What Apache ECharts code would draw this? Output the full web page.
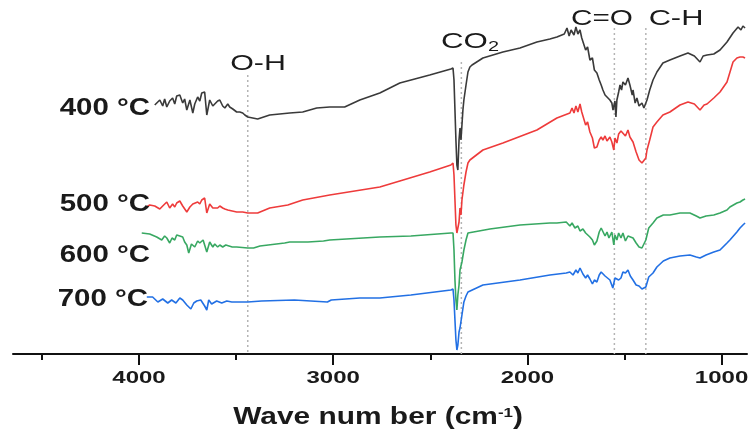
<!DOCTYPE html>
<html><head><meta charset="utf-8">
<script src="https://cdn.jsdelivr.net/npm/echarts@6/dist/echarts.min.js"></script>
<style>html,body{margin:0;padding:0;background:#fff}#c{width:751px;height:437px}</style>
</head><body><div id="c"></div>
<script>
// Wavenumber (cm-1) and relative transmittance (a.u.), stacked spectra
const s400 = [[3919,124.5],[3909,125.5],[3893,127],[3878,124],[3868,127.5],[3857,123.5],[3842,126.5],[3827,128],[3816,125],[3806,129],[3790,129.5],[3775,125.5],[3765,127.5],[3754,122],[3738,127],[3723,120.5],[3713,125],[3698,128.5],[3687,126.5],[3677,130.5],[3662,131],[3651,119.5],[3636,127],[3620,124],[3610,123.5],[3595,126.5],[3584,127],[3569,124],[3558,123],[3543,125],[3533,123.5],[3517,122.5],[3507,122],[3497,121],[3481,121],[3466,120.5],[3455,119.5],[3440,118.5],[3389,117.5],[3327,119.5],[3224,120.5],[3157,121],[3085,123],[3018,123.5],[2941,123.5],[2863,127],[2760,130.5],[2657,135.5],[2503,139.5],[2394,142.5],[2383,143],[2378,137],[2373,122],[2368,107],[2363,94.5],[2358,92],[2352,107],[2347,113],[2342,107],[2337,114.5],[2332,122],[2327,127],[2316,134.5],[2306,141],[2296,143.5],[2285,144.5],[2229,148],[2126,151],[2038,153],[1951,156],[1884,157.5],[1848,158.5],[1810,160],[1796,163],[1785,159],[1775,162],[1760,159.5],[1750,163.5],[1740,160],[1729,162],[1720,158],[1714,157],[1700,152],[1690,153.5],[1678,147],[1665,148],[1655,142],[1642,140.5],[1630,137],[1620,134.5],[1611,132],[1600,129.5],[1590,128.5],[1575,127],[1565,125.5],[1559,122],[1549,126.5],[1544,118.5],[1539,127],[1530,131],[1523,134.5],[1515,132],[1508,136],[1495,134.5],[1482,138],[1472,134.5],[1460,129.5],[1456,132],[1445,125.5],[1436,128],[1425,124],[1420,123.5],[1410,125.5],[1400,123],[1394,124.5],[1384,127],[1370,132],[1353,137],[1333,141],[1302,145.5],[1266,147],[1214,149],[1173,150.5],[1140,149],[1111,146],[1095,149],[1075,149.5],[1040,150],[1008,152],[972,156],[941,160.5],[915,163.5],[900,162],[890,164],[879,163]];
const s500 = [[3960,73.5],[3945,74.5],[3919,74],[3909,75],[3893,72.5],[3878,74],[3857,76],[3842,73],[3827,75],[3816,73.5],[3806,75.5],[3790,76.5],[3775,74],[3765,75],[3754,71],[3738,73.5],[3723,75],[3713,74],[3698,76],[3687,75],[3677,77],[3662,78],[3651,70.5],[3636,75],[3620,73],[3610,74],[3595,73],[3584,74],[3569,73],[3558,72.5],[3543,72],[3520,71.5],[3497,71],[3466,71],[3440,70.5],[3389,70.5],[3327,73],[3234,74.5],[3157,77],[3018,79.5],[2760,83.5],[2657,86.5],[2503,91],[2394,94.5],[2383,95.5],[2378,89.5],[2373,77],[2368,64.5],[2363,60.5],[2358,59.5],[2352,66],[2347,73],[2342,69.5],[2337,77],[2327,84.5],[2316,91],[2306,95.5],[2296,97],[2229,102],[2126,105.5],[1951,112],[1848,118],[1781,120.5],[1770,123],[1760,120.5],[1750,124],[1740,121],[1729,125],[1720,121],[1714,122],[1700,114.5],[1690,116],[1678,111],[1665,108],[1655,103],[1642,103.5],[1630,107],[1620,108.5],[1611,107],[1600,109],[1590,106.5],[1575,108.5],[1565,106],[1555,102],[1549,108],[1539,105.5],[1530,110],[1518,111.5],[1508,112],[1495,109],[1482,112],[1472,108.5],[1456,106],[1440,101],[1425,97],[1410,95.5],[1400,95.5],[1390,98],[1384,102],[1370,107],[1353,113.5],[1333,116],[1302,119.5],[1266,121],[1214,124.5],[1173,126],[1140,125],[1111,122],[1090,124.5],[1075,125],[1040,128],[1008,131],[972,136],[941,146],[921,148],[905,148.5],[890,148.5],[879,148]];
const s600 = [[3986,60.5],[3945,60],[3909,58.5],[3883,57],[3868,59],[3857,58],[3842,55.5],[3830,58],[3816,57],[3806,59.5],[3790,59],[3775,58.5],[3765,56],[3754,54.5],[3744,50.5],[3730,55],[3713,53.5],[3698,56.5],[3687,55.5],[3670,57],[3662,58],[3651,51],[3636,56],[3620,53.5],[3610,55],[3595,53.5],[3584,54.5],[3569,53.5],[3553,54.5],[3520,53.5],[3497,53.5],[3440,53],[3410,53],[3377,54],[3250,55.5],[3224,56],[3130,56],[3050,56.5],[3018,57],[2760,58.5],[2600,59],[2394,60.5],[2383,60.5],[2378,52],[2373,37],[2368,27],[2363,22],[2358,29.5],[2352,34.5],[2347,42],[2337,46],[2327,52],[2316,57],[2306,60.5],[2296,61.5],[2193,62.5],[2038,64.5],[1884,65.5],[1848,65.5],[1800,66],[1781,64],[1770,65.5],[1755,63],[1740,64],[1729,61.5],[1714,62.5],[1700,60.5],[1693,61.5],[1678,58.5],[1665,57],[1655,54.5],[1642,56.5],[1630,61],[1620,63],[1611,62],[1600,59],[1590,61],[1580,58],[1565,61],[1555,54.5],[1549,59.5],[1539,57],[1530,60.5],[1518,58],[1508,60.5],[1495,56.5],[1482,59],[1472,58],[1456,58],[1440,55.5],[1425,53.5],[1410,53],[1400,54],[1390,57],[1375,63],[1353,65.5],[1333,68],[1300,69.5],[1266,69.5],[1214,70.5],[1163,70.5],[1130,69],[1111,68],[1080,69],[1040,69.5],[1008,70.5],[972,72],[957,73.5],[921,75.5],[905,76],[890,77],[879,77.5]];
const s700 = [[3960,28.5],[3930,28.5],[3903,26],[3878,27.5],[3852,25.5],[3832,27],[3810,25.5],[3790,28],[3775,27],[3754,24.5],[3733,22.5],[3718,25.5],[3703,26.5],[3682,27],[3662,24],[3651,22],[3641,27],[3626,25],[3600,26.5],[3574,25.5],[3548,26.5],[3522,26],[3497,26],[3440,26],[3369,26.5],[3200,27],[3030,26],[3010,27],[2863,28],[2760,28],[2600,29.5],[2394,32],[2383,32.5],[2378,27],[2373,17],[2368,7],[2363,2],[2358,4.5],[2352,11],[2347,13],[2337,19.5],[2327,26],[2316,29],[2306,31],[2296,32],[2229,34.5],[2038,37],[1884,39.5],[1800,40.5],[1781,41],[1765,39.5],[1750,42],[1740,40.5],[1729,43],[1714,40],[1700,38],[1690,39.5],[1678,37.5],[1665,35],[1655,37],[1642,36],[1630,39.5],[1620,41],[1611,41.5],[1600,39],[1590,40],[1575,37],[1560,33],[1549,38],[1539,39],[1530,37],[1518,38],[1508,41],[1495,40.5],[1482,42],[1470,39],[1456,37],[1440,34.5],[1425,34],[1410,32.5],[1400,32],[1390,33.5],[1375,38.5],[1353,40.5],[1333,43.5],[1300,46.5],[1266,48],[1214,49],[1163,49.5],[1130,48.5],[1111,48],[1080,49.5],[1040,51],[1008,52],[972,55.5],[957,57],[921,61],[905,63],[890,64.5],[879,65.5]];

const seriesNames = ['400 °C','500 °C','600 °C','700 °C'];
const seriesColors = ['#3a3a3a','#ee3b3b','#38a862','#2270e4'];
// band positions (cm-1) and top of marker line (a.u.)
const bandWave = [3440, 2340, 1552, 1390];
const bandTop = [139.5, 146, 163, 163];
const majorTicks = [4000, 3000, 2000, 1000];
const minorTicks = [4500, 3500, 2500, 1500];

const chart = echarts.init(document.getElementById('c'), null, {renderer:'canvas'});
const FONT = '"Liberation Sans", Arial, sans-serif';

const series = [];
bandWave.forEach((w, i) => {
  series.push({type:'line', xAxisIndex:0, yAxisIndex:0, silent:true, symbol:'none', z:1,
    data:[[w, bandTop[i]], [w, 0]],
    lineStyle:{type:[2,3], color:'#b4b4b4', width:1.5}});
});
[s400, s500, s600, s700].forEach((d, i) => {
  series.push({type:'line', name:seriesNames[i], xAxisIndex:0, yAxisIndex:0, symbol:'none', z:3,
    data:d, lineStyle:{color:seriesColors[i], width:1.6}});
});

chart.setOption({
  animation:false,
  grid:{left:13, right:4, top:0, bottom:83, containLabel:false},
  xAxis:[
    {type:'value', inverse:true, min:869, max:4649, position:'bottom',
     axisLine:{show:true, lineStyle:{color:'#111', width:2}},
     axisTick:{show:true, customValues:majorTicks, length:11, lineStyle:{color:'#111', width:2}},
     axisLabel:{show:false}, splitLine:{show:false}},
    {type:'value', inverse:true, min:869, max:4649, position:'bottom',
     axisLine:{show:false},
     axisTick:{show:true, customValues:minorTicks, length:6, lineStyle:{color:'#111', width:2}},
     axisLabel:{show:false}, splitLine:{show:false}}
  ],
  yAxis:{type:'value', min:0, max:177, show:false, splitLine:{show:false}},
  series:series
});

// text elements
const g = [];
majorTicks.forEach(t => {
  const p = chart.convertToPixel({xAxisIndex:0, yAxisIndex:0}, [t, 0]);
  g.push({type:'text', x:p[0], y:p[1]+25, scaleX:1.5, z:10,
    style:{text:String(t), font:'bold 16px ' + FONT, fill:'#1a1a1a', align:'center', verticalAlign:'middle'}});
});
g.push({type:'text', x:378, y:418, scaleX:1.3, z:10,
  style:{text:'{a|Wave num ber (cm}{s|-1}{a|)}', align:'center', verticalAlign:'middle',
    rich:{a:{font:'bold 23px ' + FONT, fill:'#1a1a1a'}, s:{font:'bold 13px ' + FONT, fill:'#1a1a1a', verticalAlign:'top', padding:[0,0,10,0]}}}});
const labelPos = [[150,109],[150,205],[150,256],[148,300]];
seriesNames.forEach((n, i) => {
  g.push({type:'text', x:labelPos[i][0], y:labelPos[i][1], scaleX:1.28, z:10,
    style:{text:n, font:'bold 23px ' + FONT, fill:'#1a1a1a', align:'right', verticalAlign:'middle'}});
});
g.push({type:'text', x:258, y:64, scaleX:1.38, z:10, style:{text:'O-H', font:'22px ' + FONT, fill:'#1a1a1a', align:'center', verticalAlign:'middle'}});
g.push({type:'text', x:470, y:42, scaleX:1.42, z:10, style:{text:'{a|CO}{s|2}', align:'center', verticalAlign:'middle',
  rich:{a:{font:'22px ' + FONT, fill:'#1a1a1a'}, s:{font:'14px ' + FONT, fill:'#1a1a1a', verticalAlign:'bottom', padding:[10,0,0,0]}}}});
g.push({type:'text', x:602, y:19, scaleX:1.35, z:10, style:{text:'C=O', font:'22px ' + FONT, fill:'#1a1a1a', align:'center', verticalAlign:'middle'}});
g.push({type:'text', x:676, y:19, scaleX:1.4, z:10, style:{text:'C-H', font:'22px ' + FONT, fill:'#1a1a1a', align:'center', verticalAlign:'middle'}});
chart.setOption({graphic:{elements:g}});
</script></body></html>
